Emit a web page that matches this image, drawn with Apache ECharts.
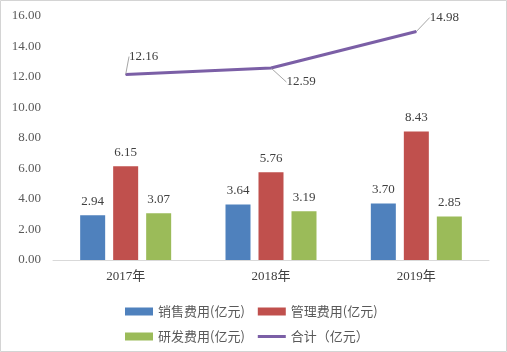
<!DOCTYPE html>
<html>
<head>
<meta charset="utf-8">
<script src="https://cdn.jsdelivr.net/npm/echarts@6/dist/echarts.min.js"></script>
<style>
    body { margin: 0; background: #fff; }
    #chartsdiv { width: 507px; height: 352px; }
</style>
</head>
<body>
<div id="chartsdiv"></div>
<script>
// 数据
var years = ['2017年', '2018年', '2019年'];
var xiaoshou = [2.94, 3.64, 3.70];
var guanli = [6.15, 5.76, 8.43];
var yanfa = [3.07, 3.19, 2.85];
var heji = [12.16, 12.59, 14.98];
var seriesNames = ['销售费用(亿元)', '管理费用(亿元)', '研发费用(亿元)', '合计（亿元）'];

// 合计标签偏移
var lineLabelShift = [[18, -19], [30, 13], [28, -15]];

var myChart = echarts.init(document.getElementById('chartsdiv'));
var numFont = '"Liberation Serif", "Times New Roman", serif';
var cjkFont = '"Liberation Serif", "Noto Sans CJK SC", serif';
var legendText = { color: '#595959', fontSize: 13, fontFamily: '"Noto Sans CJK SC", sans-serif' };

function barSeries(name, data, color) {
    return {
        name: name,
        type: 'bar',
        data: data,
        barWidth: 25,
        barGap: '32%',
        itemStyle: { color: color },
        label: {
            show: true,
            position: 'top',
            distance: 7,
            color: '#404040',
            fontFamily: numFont,
            fontSize: 13,
            formatter: function (p) { return p.value.toFixed(2); }
        }
    };
}

var option = {
    animation: false,
    backgroundColor: '#fff',
    graphic: [{
        type: 'rect',
        shape: { x: 0.5, y: 0.5, width: 506, height: 351 },
        style: { fill: 'none', stroke: '#d4d4d4', lineWidth: 1 },
        silent: true
    }],
    grid: { left: 53, right: 18, top: 16, bottom: 92 },
    legend: [{
        data: [seriesNames[0], seriesNames[1]],
        left: 120, top: 300,
        itemWidth: 28, itemHeight: 8, itemGap: 13,
        icon: 'rect',
        textStyle: legendText
    }, {
        data: [
            { name: seriesNames[2], icon: 'rect' },
            { name: seriesNames[3], icon: 'path://M0,0H28V3H0Z' }
        ],
        left: 120, top: 325,
        itemWidth: 28, itemHeight: 8, itemGap: 13,
        textStyle: legendText
    }],
    xAxis: {
        type: 'category',
        data: years,
        axisLine: { lineStyle: { color: '#d9d9d9', width: 1 } },
        axisTick: { show: false },
        axisLabel: { color: '#404040', fontSize: 13, fontFamily: cjkFont, margin: 10 }
    },
    yAxis: {
        type: 'value',
        min: 0, max: 16, interval: 2,
        axisLine: { show: false },
        axisTick: { show: false },
        splitLine: { show: false },
        axisLabel: {
            color: '#595959', fontSize: 13, fontFamily: numFont, margin: 12,
            formatter: function (v) { return v.toFixed(2); }
        }
    },
    series: [
        barSeries(seriesNames[0], xiaoshou, '#4f81bd'),
        barSeries(seriesNames[1], guanli, '#c0504d'),
        barSeries(seriesNames[2], yanfa, '#9bbb59'),
        {
            name: seriesNames[3],
            type: 'line',
            data: heji,
            symbol: 'circle',
            symbolSize: 1,
            showSymbol: true,
            lineStyle: { color: '#7b5fa6', width: 3 },
            itemStyle: { color: '#7b5fa6' },
            label: {
                show: true,
                position: 'top',
                distance: 0,
                color: '#404040',
                fontFamily: numFont,
                fontSize: 13,
                formatter: function (p) { return p.value.toFixed(2); }
            },
            labelLine: { show: true, lineStyle: { color: '#a6a6a6', width: 1 } },
            labelLayout: function (params) {
                var s = lineLabelShift[params.dataIndex];
                return { dx: s[0], dy: s[1] + 8 };
            }
        }
    ]
};

myChart.setOption(option);
</script>
</body>
</html>
